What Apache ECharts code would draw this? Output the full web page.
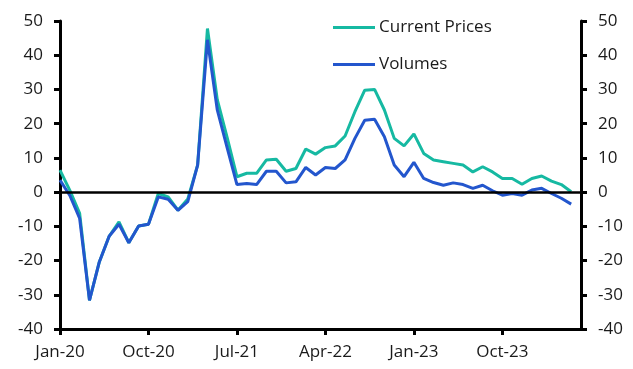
<!DOCTYPE html>
<html>
<head>
<meta charset="utf-8">
<script src="https://cdn.jsdelivr.net/npm/echarts@6/dist/echarts.min.js"></script>
<style>html,body{margin:0;padding:0;background:#fff}#c{width:633px;height:369px}</style>
</head>
<body>
<div id="c"></div>
<script>
const months = ['Jan','Feb','Mar','Apr','May','Jun','Jul','Aug','Sep','Oct','Nov','Dec'];
const categories = [];
for (let y = 20; y <= 24; y++) for (let m = 0; m < 12; m++) { if (y === 24 && m > 5) break; categories.push(months[m] + '-' + y); }

const currentPrices = [6.4, 0.5, -6.2, -31.6, -20.4, -12.9, -8.7, -14.8, -9.9, -9.4,
  -0.4, -1.4, -5.3, -2.0, 7.9, 47.8, 27.0, 16.0, 4.5, 5.5,
  5.5, 9.4, 9.6, 6.1, 6.9, 12.6, 11.1, 13.0, 13.5, 16.4,
  23.5, 29.8, 30.0, 24.0, 15.7, 13.5, 17.0, 11.3, 9.4, 8.9,
  8.4, 7.9, 5.9, 7.4, 5.9, 4.0, 4.0, 2.3, 4.0, 4.7,
  3.2, 2.2, 0.1];
const volumes = [3.5, -1.0, -7.7, -31.6, -20.4, -12.9, -9.4, -14.8, -9.9, -9.4,
  -1.4, -2.1, -5.3, -2.8, 7.9, 44.5, 24.0, 13.0, 2.2, 2.5,
  2.2, 6.1, 6.1, 2.7, 3.0, 7.2, 5.0, 7.2, 6.9, 9.4,
  15.7, 21.0, 21.3, 16.2, 7.9, 4.5, 8.7, 4.0, 2.8, 2.0,
  2.7, 2.2, 1.1, 2.0, 0.4, -0.9, -0.4, -0.9, 0.6, 1.1,
  -0.4, -1.8, -3.5];

const FONT = 'Open Sans';
const FS = 17;
const chart = echarts.init(document.getElementById('c'));
const yAxisCommon = {
  type: 'value', min: -40, max: 50, interval: 10,
  axisLine: { show: true, lineStyle: { color: '#000', width: 3 } },
  axisTick: { show: true, length: 6, lineStyle: { color: '#000', width: 3 } },
  axisLabel: { color: '#1a1a1a', fontSize: FS, fontFamily: FONT, margin: 17 },
  splitLine: { show: false }
};
chart.setOption({
  animation: false,
  grid: { left: 60, right: 52, top: 21, bottom: 40, containLabel: false },
  legend: {
    orient: 'vertical', left: 333, top: 19, padding: 0, itemWidth: 42, itemHeight: 3, itemGap: 20,
    icon: 'rect',
    textStyle: { color: '#1a1a1a', fontSize: FS, fontFamily: FONT, padding: [0, 0, 0, -1] },
    data: ['Current Prices', 'Volumes']
  },
  xAxis: {
    type: 'category', data: categories, boundaryGap: false,
    axisLine: { show: true, onZero: false, lineStyle: { color: '#000', width: 3 } },
    axisTick: { show: true, interval: 8, length: 6, lineStyle: { color: '#000', width: 3 } },
    axisLabel: { interval: 8, color: '#1a1a1a', fontSize: FS, fontFamily: FONT, margin: 15 },
    splitLine: { show: false }
  },
  yAxis: [
    Object.assign({}, yAxisCommon, { position: 'left' }),
    Object.assign({}, yAxisCommon, { position: 'right' })
  ],
  series: [
    {
      name: 'Current Prices', type: 'line', data: currentPrices, symbol: 'none',
      lineStyle: { color: '#16b9a2', width: 3 }, itemStyle: { color: '#16b9a2' },
      markLine: {
        silent: true, symbol: 'none', label: { show: false },
        lineStyle: { color: '#000', width: 2.5, type: 'solid' },
        data: [{ yAxis: 0 }]
      },
      z: 2
    },
    {
      name: 'Volumes', type: 'line', data: volumes, symbol: 'none',
      lineStyle: { color: '#2356cd', width: 3 }, itemStyle: { color: '#2356cd' },
      z: 3
    }
  ]
});
</script>
</body>
</html>
